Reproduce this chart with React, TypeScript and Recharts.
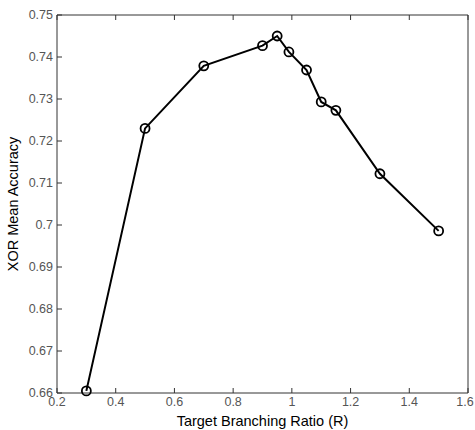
import React from 'react';
import { LineChart, Line, XAxis, YAxis } from 'recharts';

const ratios = [0.3, 0.5, 0.7, 0.9, 0.95, 0.99, 1.05, 1.1, 1.15, 1.3, 1.5];
const accuracy = [0.6605, 0.723, 0.7379, 0.7427, 0.745, 0.7412, 0.7369, 0.7293, 0.7273, 0.7122, 0.6986];
const xTicks = [0.2, 0.4, 0.6, 0.8, 1, 1.2, 1.4, 1.6];
const yTicks = [0.66, 0.67, 0.68, 0.69, 0.7, 0.71, 0.72, 0.73, 0.74, 0.75];

const data = ratios.map((r, i) => ({ r, acc: accuracy[i] }));

const fmt = (v: number) => String(Number(v.toFixed(2)));
const axisColor = '#333';
const labelColor = '#555';
const font = 'Liberation Sans, Arial, sans-serif';

const BottomTick = (props: any) => {
  const { x, y, payload } = props;
  // keep the last label inside the page edge
  const tx = Math.min(x, 465);
  return (
    <g>
      <line x1={x} x2={x} y1={y} y2={y - 5} stroke={axisColor} strokeWidth={1} />
      <text x={tx} y={y + 9} textAnchor="middle" dominantBaseline="central" fill={labelColor} fontSize={12.5} fontFamily={font}>
        {fmt(payload.value)}
      </text>
    </g>
  );
};

const TopTick = (props: any) => {
  const { x, y } = props;
  return <line x1={x} x2={x} y1={y} y2={y + 5} stroke={axisColor} strokeWidth={1} />;
};

const LeftTick = (props: any) => {
  const { x, y, payload } = props;
  return (
    <g>
      <line x1={x} x2={x + 5} y1={y} y2={y} stroke={axisColor} strokeWidth={1} />
      <text x={x - 4} y={y} textAnchor="end" dominantBaseline="central" fill={labelColor} fontSize={12.5} fontFamily={font}>
        {fmt(payload.value)}
      </text>
    </g>
  );
};

const RightTick = (props: any) => {
  const { x, y } = props;
  return <line x1={x} x2={x - 5} y1={y} y2={y} stroke={axisColor} strokeWidth={1} />;
};

export default function App() {
  return (
    <div style={{ width: 475, height: 430, background: '#fff', position: 'relative' }}>
      <style>{'body{margin:0;}'}</style>
      <LineChart width={475} height={430} data={data} margin={{ top: 0, right: 0, bottom: 0, left: 0 }}>
        <XAxis
          xAxisId="bottom"
          dataKey="r"
          type="number"
          domain={[0.2, 1.6]}
          ticks={xTicks}
          orientation="bottom"
          height={37}
          tickSize={0}
          tickMargin={0}
          tickLine={false}
          stroke={axisColor}
          tick={<BottomTick />}
          interval={0}
          label={{ value: 'Target Branching Ratio (R)', position: 'insideBottom', offset: 4, fill: '#000', fontSize: 14.5, fontFamily: font }}
        />
        <XAxis
          xAxisId="top"
          dataKey="r"
          type="number"
          domain={[0.2, 1.6]}
          ticks={xTicks}
          orientation="top"
          height={15}
          tickSize={0}
          tickMargin={0}
          tickLine={false}
          stroke={axisColor}
          tick={<TopTick />}
          interval={0}
        />
        <YAxis
          yAxisId="left"
          type="number"
          domain={[0.66, 0.75]}
          ticks={yTicks}
          orientation="left"
          width={57}
          tickSize={0}
          tickMargin={0}
          tickLine={false}
          stroke={axisColor}
          tick={<LeftTick />}
          interval={0}
          label={{ value: 'XOR Mean Accuracy', angle: -90, position: 'insideLeft', offset: 13, fill: '#000', fontSize: 14.5, fontFamily: font, style: { textAnchor: 'middle' } }}
        />
        <YAxis
          yAxisId="right"
          type="number"
          domain={[0.66, 0.75]}
          ticks={yTicks}
          orientation="right"
          width={7}
          tickSize={0}
          tickMargin={0}
          tickLine={false}
          stroke={axisColor}
          tick={<RightTick />}
          interval={0}
        />
        <Line
          xAxisId="bottom"
          yAxisId="left"
          dataKey="acc"
          stroke="#000"
          strokeWidth={2}
          dot={{ r: 4.5, stroke: '#000', strokeWidth: 1.8, fill: 'none' }}
          isAnimationActive={false}
        />
      </LineChart>
    </div>
  );
}
